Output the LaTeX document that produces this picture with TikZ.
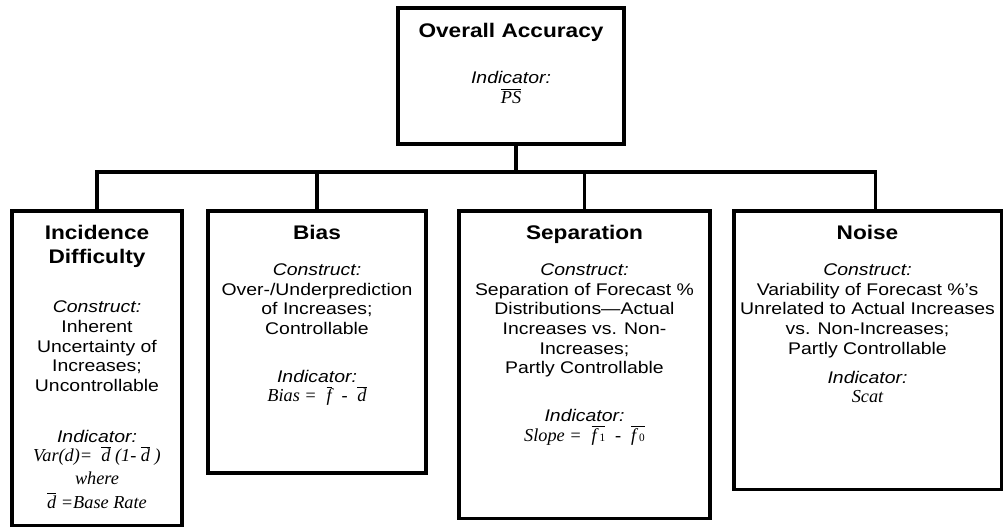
\documentclass[tikz,border=0pt]{standalone}
\usepackage{fontspec}
\setmainfont{Liberation Sans}[FakeStretch=1.15]
\newfontfamily\formfont{Liberation Serif}
\usetikzlibrary{positioning}

\newcommand{\hdfont}{\fontsize{14}{14}\selectfont\bfseries}
\newcommand{\bdfont}{\fontsize{12}{14}\selectfont\mdseries}
\newcommand{\fmfont}{\formfont\itshape\fontsize{13}{14}\selectfont}
\newcommand{\obar}[1]{$\overline{\hbox{#1}}$}
\newcommand{\gap}{\hspace{7pt}}

\tikzset{
  box/.style={draw, line width=2.2pt, inner sep=0pt},
  txt/.style={align=center, inner sep=0pt, font=\bdfont},
  link/.style={line width=2.2pt},
}

\begin{document}
\begin{tikzpicture}[x=0.025cm, y=-0.025cm]
    \useasboundingbox (0,0) rectangle (1004,528);

    % overall accuracy
    \node[box, minimum width=5.65cm, minimum height=3.4cm] (top) at (511,76) {};
    \node[txt, below=0.41cm of top.north] (toptxt) {\hdfont Overall Accuracy\\[19pt]
        \textit{Indicator:}\\ \fmfont\obar{PS}};

    % incidence difficulty
    \node[box, minimum width=4.25cm, minimum height=7.85cm] (inc) at (97,368) {};
    \node[txt, below=0.39cm of inc.north] (inctxt) {\hdfont Incidence\\[3pt] \hdfont Difficulty\\[21pt]
        \textit{Construct:}\\ Inherent\\ Uncertainty of\\ Increases;\\ Uncontrollable\\[22pt]
        \textit{Indicator:}\\ \fmfont Var(d)=\ \ \obar{d} (1- \obar{d} )\\[2pt] \fmfont where\\[3pt]
        \fmfont\obar{d} =Base Rate};

    % bias
    \node[box, minimum width=5.45cm, minimum height=6.55cm] (bias) at (317,342) {};
    \node[txt, below=0.39cm of bias.north] (biastxt) {\hdfont Bias\\[11.5pt]
        \textit{Construct:}\\ Over-/Underprediction\\ of Increases;\\ Controllable\\[20pt]
        \textit{Indicator:}\\ \fmfont Bias =\gap\obar{f}\gap-\gap\obar{d}};

    % separation
    \node[box, minimum width=6.275cm, minimum height=7.675cm] (sep) at (584.5,364.5) {};
    \node[txt, below=0.39cm of sep.north] (septxt) {\hdfont Separation\\[11.5pt]
        \textit{Construct:}\\ Separation of Forecast \%\\ Distributions---Actual\\
        Increases vs. Non-\\ Increases;\\ Partly Controllable\\[20pt]
        \textit{Indicator:}\\ \fmfont Slope =\gap\obar{f\,{\upshape\footnotesize 1}}\gap-\gap\obar{f\,{\upshape\footnotesize 0}}};

    % noise
    \node[box, minimum width=6.675cm, minimum height=6.95cm] (noise) at (867.5,350) {};
    \node[txt, below=0.39cm of noise.north] (noisetxt) {\hdfont Noise\\[11.5pt]
        \textit{Construct:}\\ Variability of Forecast \%'s\\ Unrelated to Actual Increases\\
        vs. Non-Increases;\\ Partly Controllable\\[6.6pt]
        \textit{Indicator:}\\ \fmfont Scat};

    % tree lines
    \coordinate (bus) at (0,172);
    \coordinate (stem) at ([xshift=0.125cm]top.south);
    \coordinate (nstem) at ([xshift=0.19cm]noise.north);
    \draw[link] (stem) -- (stem |- bus);
    \draw[link] (inc.north) -- (inc.north |- bus) -| (nstem);
    \draw[link] (bias.north) -- (bias.north |- bus);
    \draw[link] (sep.north) -- (sep.north |- bus);

\end{tikzpicture}
\end{document}
